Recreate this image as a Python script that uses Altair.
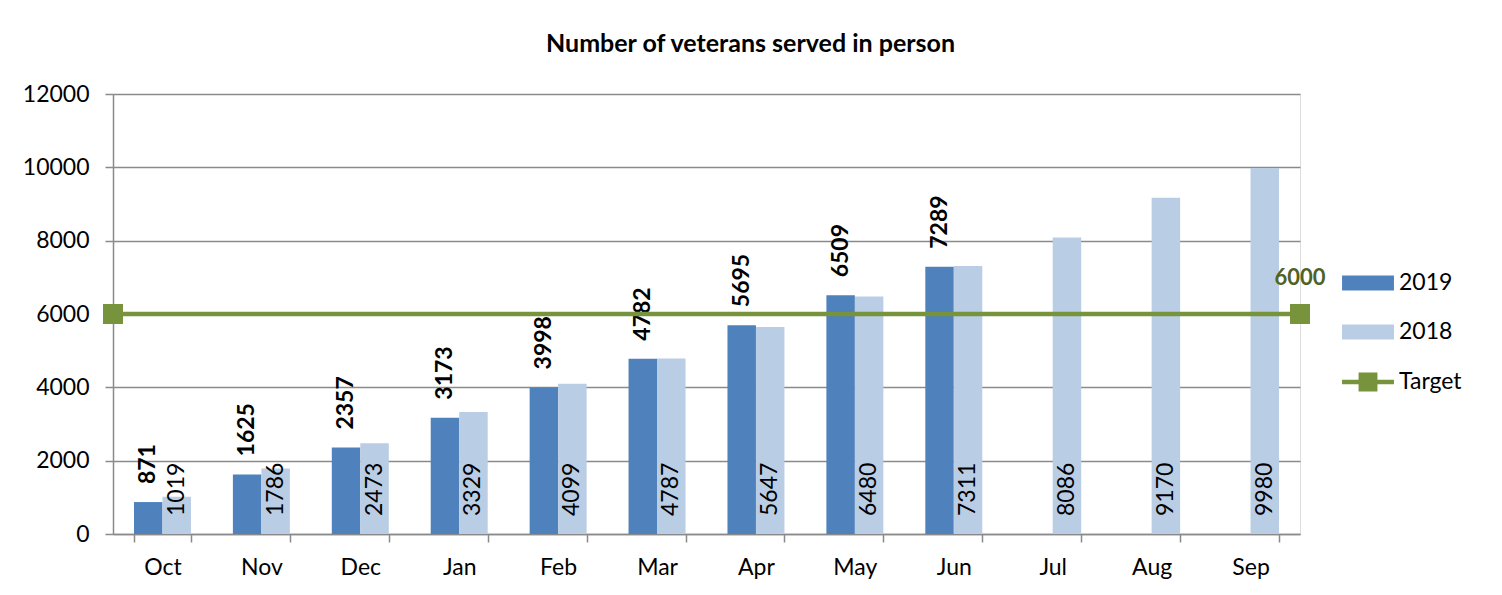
import altair as alt
import pandas as pd

months = ["Oct", "Nov", "Dec", "Jan", "Feb", "Mar", "Apr", "May", "Jun", "Jul", "Aug", "Sep"]
values_2019 = [871, 1625, 2357, 3173, 3998, 4782, 5695, 6509, 7289]
values_2018 = [1019, 1786, 2473, 3329, 4099, 4787, 5647, 6480, 7311, 8086, 9170, 9980]
target_value = 6000
target_ends = [0, 1]
series_names = ["2019", "2018"]
y_ticks = [0, 2000, 4000, 6000, 8000, 10000, 12000]

FONT = "Lato"
C2019 = "#4F81BD"
C2018 = "#B9CDE5"
CGREEN = "#77933C"

rows = []
for m, v in zip(months, values_2019):
    rows.append({"month": m, "series": "2019", "value": v})
for m, v in zip(months, values_2018):
    rows.append({"month": m, "series": "2018", "value": v})
df = pd.DataFrame(rows)

df_t = pd.DataFrame({"pos": target_ends, "value": [target_value] * len(target_ends),
                     "series": ["Target"] * len(target_ends)})

y_axis = alt.Axis(values=y_ticks, format="d", title=None, labelFontSize=23, labelFont=FONT,
                  labelColor="black", tickSize=8, tickColor="#8a8a8a", tickWidth=1.5,
                  domainColor="#8a8a8a", domainWidth=1.5, gridColor="#8a8a8a", gridWidth=1.5,
                  labelPadding=16)
y_scale = alt.Scale(domain=[0, 12000], nice=False)

def yenc():
    return alt.Y("value:Q", scale=y_scale, axis=y_axis)

x_enc = alt.X("month:N", sort=months, title=None,
              scale=alt.Scale(domain=months, paddingInner=0.424, paddingOuter=0.212),
              axis=alt.Axis(labelAngle=0, labelFontSize=23, labelFont=FONT, labelColor="black",
                            tickBand="extent", tickSize=8, tickColor="#8a8a8a", tickWidth=1.5,
                            domainColor="#8a8a8a", domainWidth=1.5, grid=False, labelPadding=14))
xo_enc = alt.XOffset("series:N", sort=series_names, scale=alt.Scale(domain=series_names))

rect_path = "M-1.73,-0.5H1.73V0.5H-1.73Z"
target_path = "M-1.73,-0.15H1.73V0.15H-1.73Z M-0.63,-0.63H0.63V0.63H-0.63Z"

legend_common = dict(orient="none", title=None, labelFontSize=23, labelFont=FONT, labelColor="black",
                     symbolSize=900, labelOffset=16, rowPadding=22, padding=0, symbolStrokeWidth=0)

bars = alt.Chart(df).mark_bar().encode(
    x=x_enc, xOffset=xo_enc, y=yenc(),
    color=alt.Color("series:N", scale=alt.Scale(domain=series_names, range=[C2019, C2018]),
                    legend=alt.Legend(symbolType=rect_path, legendX=1240, legendY=174, **legend_common)),
)

lab19 = alt.Chart(df).transform_filter("datum.series == '2019'").mark_text(
    angle=270, align="left", baseline="middle", dx=18, fontSize=23, fontWeight="bold", font=FONT, color="black"
).encode(x=x_enc, xOffset=xo_enc, y=yenc(), text="value:Q")

lab18 = alt.Chart(df).transform_filter("datum.series == '2018'").mark_text(
    angle=270, align="left", baseline="middle", dx=18, fontSize=23, font=FONT, color="black"
).encode(x=x_enc, xOffset=xo_enc, y=alt.datum(0), text="value:Q")

bar_layer = alt.layer(bars, lab19, lab18)

tx = alt.X("pos:Q", scale=alt.Scale(domain=[0, 1], nice=False, zero=False), axis=None)
tline = alt.Chart(df_t).mark_line(color=CGREEN, strokeWidth=4.5).encode(x=tx, y=yenc())
tpts = alt.Chart(df_t).mark_point(shape="square", filled=True, size=400, opacity=1).encode(
    x=tx, y=yenc(),
    color=alt.Color("series:N", scale=alt.Scale(domain=["Target"], range=[CGREEN]),
                    legend=alt.Legend(symbolType=target_path, legendX=1240, legendY=273, **legend_common)),
)
tlab = alt.Chart(df_t).transform_filter("datum.pos == 1").mark_text(
    dy=-36, fontSize=22, fontWeight="bold", font=FONT, color="#4F6228", align="center"
).encode(x=tx, y=yenc(), text="value:Q")

target_layer = alt.layer(tline, tpts, tlab)

chart = alt.layer(bar_layer, target_layer).resolve_scale(x="independent", color="independent").properties(
    width=1187, height=440,
    title=alt.TitleParams("Number of veterans served in person", fontSize=25, fontWeight="bold",
                          font=FONT, color="black", anchor="middle", dx=44, offset=26),
    padding={"left": 105, "top": 86, "right": 190, "bottom": 53},
    autosize=alt.AutoSizeParams(type="none"),
).configure_view(fill="#F3F6EE", stroke=None).configure(background="white")

chart.save("out.html", embed_options={"renderer": "svg", "actions": False})
